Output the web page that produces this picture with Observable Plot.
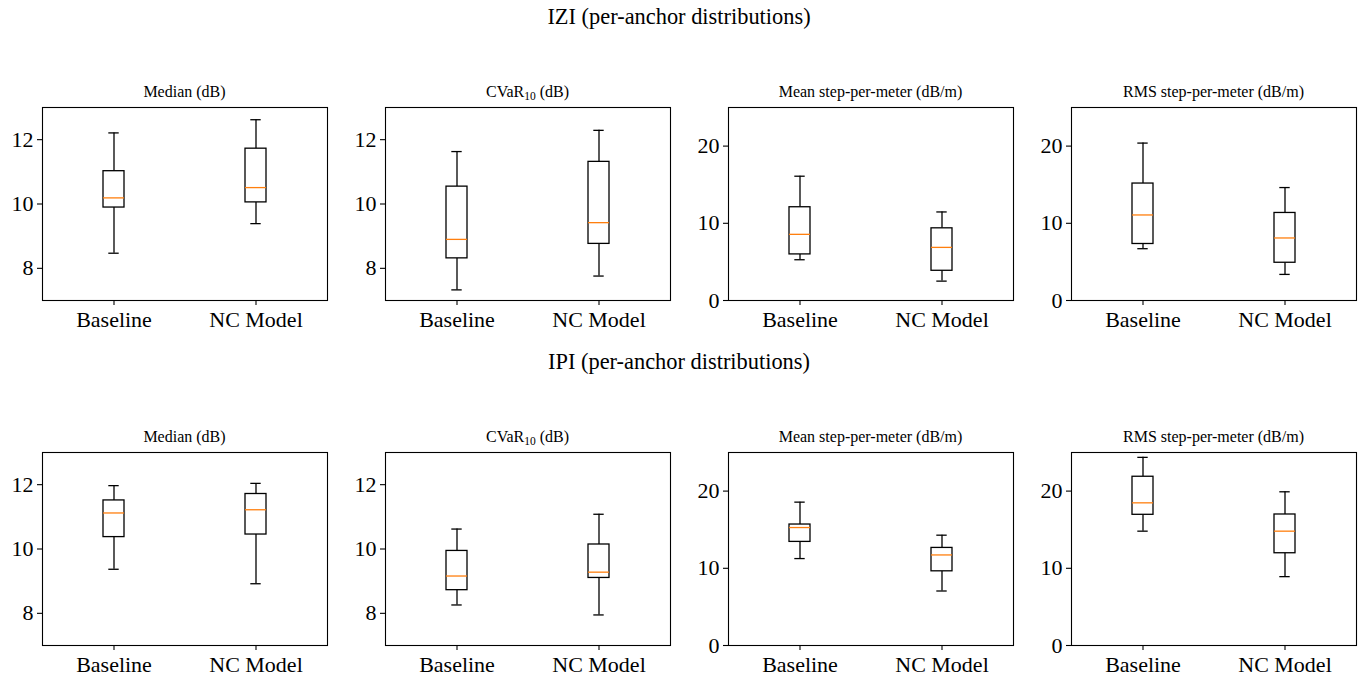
<!DOCTYPE html>
<html>
<head>
<meta charset="utf-8">
<script src="https://cdn.jsdelivr.net/npm/d3@7"></script>
<script src="https://cdn.jsdelivr.net/npm/@observablehq/plot@0.6"></script>
<style>
  body { margin: 0; background: #fff; }
  #fig { position: relative; width: 1358px; height: 677px; font-family: "Liberation Serif", "Times New Roman", serif; color: #000; }
  .sup { position: absolute; left: 0; width: 1358px; text-align: center; font-size: 22.4px; line-height: 1; }
  .sub { position: absolute; text-align: center; font-size: 16px; line-height: 1; white-space: nowrap; }
  .sub sub { font-size: 11.5px; vertical-align: -3px; line-height: 0; }
  #fig svg { position: absolute; overflow: visible; }
  #fig svg, #fig svg text { font-family: "Liberation Serif", "Times New Roman", serif !important; }
</style>
</head>
<body>
<div id="fig"></div>
<script>
// ---------- data ----------
const groups = ["Baseline", "NC Model"];
const rowTitles = ["IZI (per-anchor distributions)", "IPI (per-anchor distributions)"];
const metricNames = ["Median", "CVaR", "Mean step-per-meter", "RMS step-per-meter"];
const metricSubs = ["", "10", "", ""];
const metricUnits = ["(dB)", "(dB)", "(dB/m)", "(dB/m)"];
const yDomains = [[7, 13], [7, 13], [0, 25], [0, 25]];
const yTicks = [[8, 10, 12], [8, 10, 12], [0, 10, 20], [0, 10, 20]];

// five-number summaries per metric: [whisker low, q1, median, q3, whisker high]
const iziBaseline = [
  [8.47, 9.89, 10.19, 11.02, 12.21],
  [7.33, 8.31, 8.90, 10.54, 11.63],
  [5.28, 5.97, 8.57, 12.08, 16.10],
  [6.71, 7.32, 11.08, 15.15, 20.39]
];
const iziNC = [
  [9.39, 10.05, 10.51, 11.72, 12.62],
  [7.76, 8.76, 9.42, 11.31, 12.29],
  [2.51, 3.85, 6.88, 9.35, 11.47],
  [3.38, 4.89, 8.10, 11.34, 14.63]
];
const ipiBaseline = [
  [9.37, 10.37, 11.12, 11.51, 11.97],
  [8.26, 8.72, 9.16, 9.94, 10.62],
  [11.26, 13.42, 15.28, 15.67, 18.57],
  [14.81, 16.93, 18.48, 21.86, 24.37]
];
const ipiNC = [
  [8.92, 10.45, 11.22, 11.71, 12.04],
  [7.95, 9.10, 9.28, 10.14, 11.08],
  [7.06, 9.61, 11.73, 12.64, 14.29],
  [8.92, 11.95, 14.81, 16.97, 19.91]
];
const rows = [[iziBaseline, iziNC], [ipiBaseline, ipiNC]];

// ---------- layout ----------
const colLefts = [42, 385, 728, 1071];
const rowTops = [107, 452];
const frameW = 285, frameH = 193;
const mL = 40, mR = 6, mT = 6, mB = 44;
const supTops = [6.3, 351.3];
const serif = "'Liberation Serif', 'Times New Roman', serif";

const fig = document.getElementById("fig");

rowTitles.forEach((t, r) => {
  const d = document.createElement("div");
  d.className = "sup";
  d.style.top = supTops[r] + "px";
  d.textContent = t;
  fig.appendChild(d);
});

rows.forEach(([base, nc], r) => {
  metricNames.forEach((name, m) => {
    const data = [base[m], nc[m]].map((s, i) => ({
      group: groups[i], low: s[0], q1: s[1], med: s[2], q3: s[3], high: s[4]
    }));
    const plot = Plot.plot({
      width: frameW + mL + mR,
      height: frameH + mT + mB,
      marginLeft: mL, marginRight: mR, marginTop: mT, marginBottom: mB,
      style: { fontFamily: serif, fontSize: "22px", color: "#000", background: "transparent" },
      x: { type: "band", domain: groups, paddingInner: 0.85, paddingOuter: 0.425, label: null },
      y: { domain: yDomains[m], label: null },
      marks: [
        Plot.ruleX(data, { x: "group", y1: "low", y2: "q1", stroke: "#000", strokeWidth: 1.3 }),
        Plot.ruleX(data, { x: "group", y1: "q3", y2: "high", stroke: "#000", strokeWidth: 1.3 }),
        Plot.tickY(data, { x: "group", y: "low", stroke: "#000", strokeWidth: 1.3, insetLeft: 5.3, insetRight: 5.3 }),
        Plot.tickY(data, { x: "group", y: "high", stroke: "#000", strokeWidth: 1.3, insetLeft: 5.3, insetRight: 5.3 }),
        Plot.barY(data, { x: "group", y1: "q1", y2: "q3", fill: "#fff", stroke: "#000", strokeWidth: 1.3 }),
        Plot.tickY(data, { x: "group", y: "med", stroke: "#ff7f0e", strokeWidth: 1.3 }),
        Plot.frame({ stroke: "#000", strokeWidth: 1.1 }),
        Plot.axisY({ ticks: yTicks[m], tickFormat: d3.format("d"), tickSize: 5, tickPadding: 4, label: null, strokeWidth: 1.1, fontFamily: serif, fontSize: 22 }),
        Plot.axisX({ tickSize: 5, tickPadding: 6, label: null, strokeWidth: 1.1, fontFamily: serif, fontSize: 22 })
      ]
    });
    plot.style.left = (colLefts[m] - mL) + "px";
    plot.style.top = (rowTops[r] - mT) + "px";
    fig.appendChild(plot);

    const t = document.createElement("div");
    t.className = "sub";
    t.style.left = colLefts[m] + "px";
    t.style.width = frameW + "px";
    t.style.top = (rowTops[r] - 23) + "px";
    t.innerHTML = name + (metricSubs[m] ? "<sub>" + metricSubs[m] + "</sub>" : "") + " " + metricUnits[m];
    fig.appendChild(t);
  });
});
</script>
</body>
</html>
